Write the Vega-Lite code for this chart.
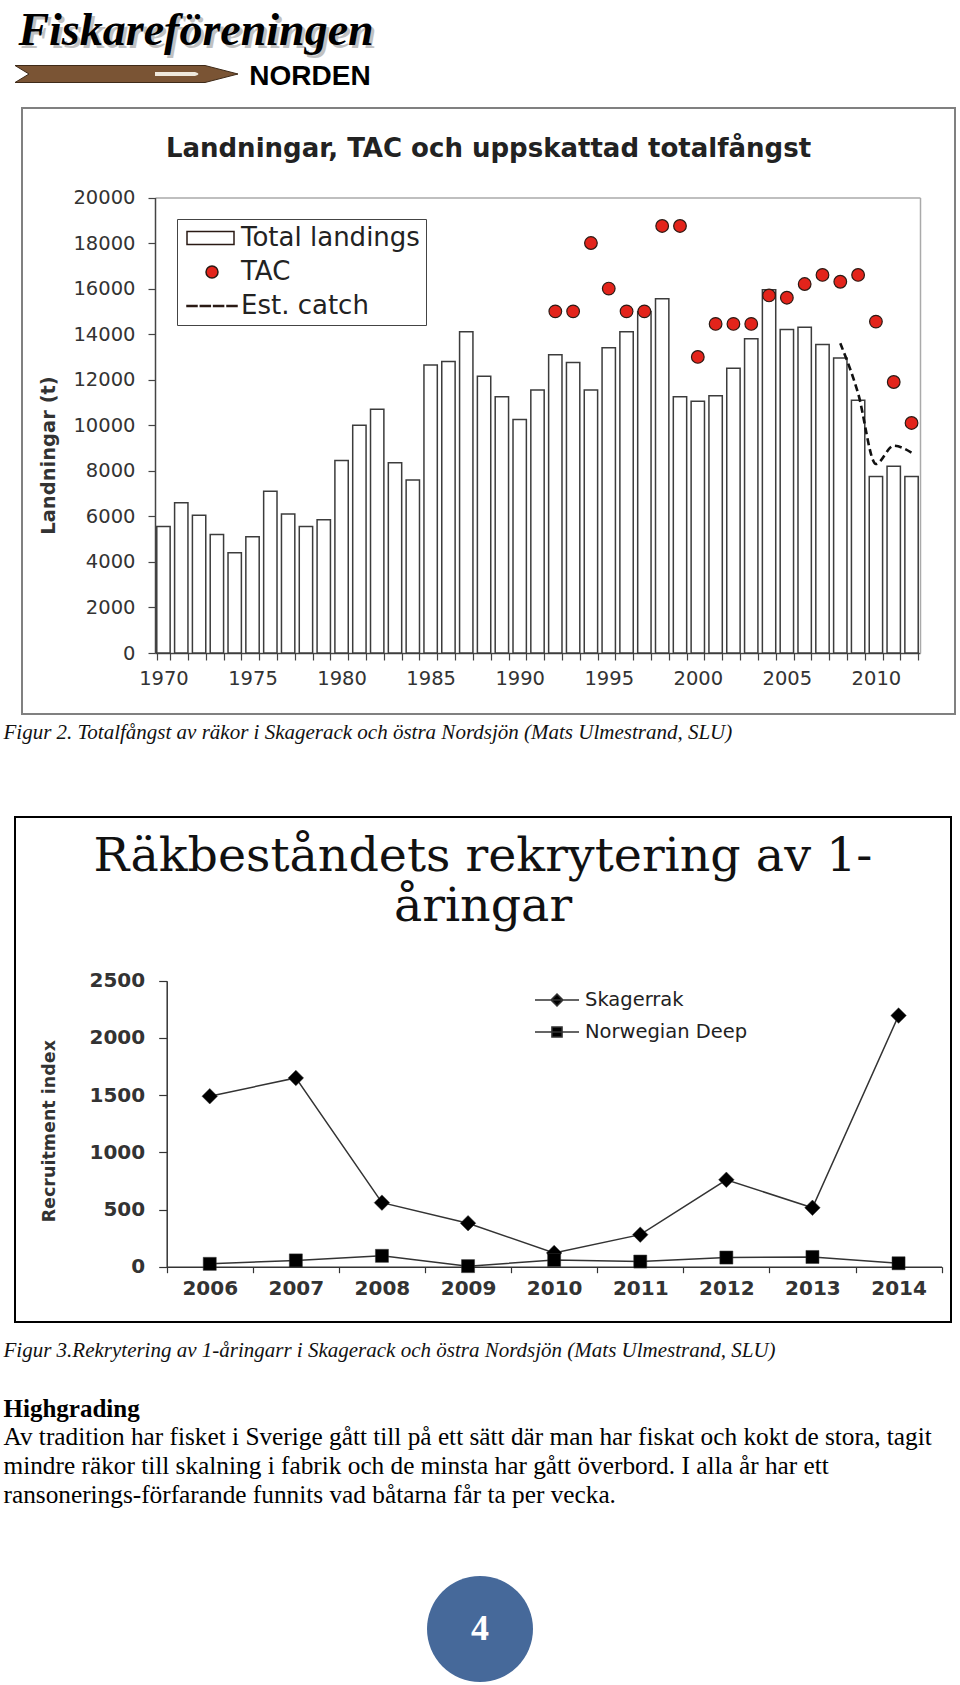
{
  "$schema": "https://vega.github.io/schema/vega-lite/v6.json",
  "background": "white",
  "padding": 0,
  "spacing": 0,
  "config": {"view": {"stroke": null}, "axis": {"grid": false}},
  "resolve": {"scale": {"color": "independent", "shape": "independent", "fill": "independent"}, "legend": {"color": "independent", "shape": "independent", "fill": "independent"}},
  "vconcat": [
    {
      "width": 370,
      "height": 107,
      "data": {"values": [{"name": "Fiskareföreningen", "sub": "NORDEN"}]},
      "layer": [
        {"mark": {"type": "point", "shape": "M-1.7,0.12L0.2,0.12L0.53,0.205L0.2,0.29L-1.7,0.29L-1.56,0.205Z", "size": 40000, "filled": true, "color": "#7a5434", "stroke": "#3e2a18", "strokeWidth": 1, "opacity": 1}, "encoding": {}},
        {"mark": {"type": "point", "shape": "M-0.3,0.185L0.1,0.185Q0.17,0.205,0.1,0.225L-0.3,0.225Z", "size": 40000, "filled": true, "color": "#efe8dc", "opacity": 1}, "encoding": {}},
        {"mark": {"type": "text", "font": "Liberation Serif", "fontStyle": "italic", "fontWeight": "bold", "fontSize": 46, "align": "center", "baseline": "alphabetic", "dx": 14, "dy": -6, "color": "#999999", "opacity": 0.6}, "encoding": {"text": {"field": "name"}}},
        {"mark": {"type": "text", "font": "Liberation Serif", "fontStyle": "italic", "fontWeight": "bold", "fontSize": 46, "align": "center", "baseline": "alphabetic", "dx": 11, "dy": -9, "color": "#000000"}, "encoding": {"text": {"field": "name"}}},
        {"mark": {"type": "text", "font": "Liberation Sans", "fontWeight": "bold", "fontSize": 28, "align": "center", "baseline": "alphabetic", "dx": 125, "dy": 31, "color": "#000000"}, "encoding": {"text": {"field": "sub"}}}
      ]
    },
    {
      "resolve": {"scale": {"color": "independent", "shape": "independent"}, "legend": {"color": "independent", "shape": "independent"}},
      "hconcat": [
        {"width": 21, "height": 606, "data": {"values": [{}]}, "mark": {"type": "text"}, "encoding": {"text": {"value": ""}}},
        {
          "width": 933,
          "height": 606,
          "view": {"stroke": "#808080", "strokeWidth": 2},
          "title": {"text": "Landningar, TAC och uppskattad totalfångst", "font": "DejaVu Sans", "fontSize": 26, "fontWeight": "bold", "color": "#222222", "anchor": "middle", "offset": -75, "baseline": "alphabetic"},
          "data": {"values": [
            {"year": 1970, "landings": 5550, "tac": null, "est": null},
            {"year": 1971, "landings": 6600, "tac": null, "est": null},
            {"year": 1972, "landings": 6050, "tac": null, "est": null},
            {"year": 1973, "landings": 5200, "tac": null, "est": null},
            {"year": 1974, "landings": 4400, "tac": null, "est": null},
            {"year": 1975, "landings": 5100, "tac": null, "est": null},
            {"year": 1976, "landings": 7100, "tac": null, "est": null},
            {"year": 1977, "landings": 6100, "tac": null, "est": null},
            {"year": 1978, "landings": 5550, "tac": null, "est": null},
            {"year": 1979, "landings": 5850, "tac": null, "est": null},
            {"year": 1980, "landings": 8450, "tac": null, "est": null},
            {"year": 1981, "landings": 10000, "tac": null, "est": null},
            {"year": 1982, "landings": 10700, "tac": null, "est": null},
            {"year": 1983, "landings": 8350, "tac": null, "est": null},
            {"year": 1984, "landings": 7600, "tac": null, "est": null},
            {"year": 1985, "landings": 12650, "tac": null, "est": null},
            {"year": 1986, "landings": 12800, "tac": null, "est": null},
            {"year": 1987, "landings": 14100, "tac": null, "est": null},
            {"year": 1988, "landings": 12150, "tac": null, "est": null},
            {"year": 1989, "landings": 11250, "tac": null, "est": null},
            {"year": 1990, "landings": 10250, "tac": null, "est": null},
            {"year": 1991, "landings": 11550, "tac": null, "est": null},
            {"year": 1992, "landings": 13100, "tac": 15000, "est": null},
            {"year": 1993, "landings": 12750, "tac": 15000, "est": null},
            {"year": 1994, "landings": 11550, "tac": 18000, "est": null},
            {"year": 1995, "landings": 13400, "tac": 16000, "est": null},
            {"year": 1996, "landings": 14100, "tac": 15000, "est": null},
            {"year": 1997, "landings": 15000, "tac": 15000, "est": null},
            {"year": 1998, "landings": 15550, "tac": 18750, "est": null},
            {"year": 1999, "landings": 11250, "tac": 18750, "est": null},
            {"year": 2000, "landings": 11050, "tac": 13000, "est": null},
            {"year": 2001, "landings": 11300, "tac": 14450, "est": null},
            {"year": 2002, "landings": 12500, "tac": 14450, "est": null},
            {"year": 2003, "landings": 13800, "tac": 14450, "est": null},
            {"year": 2004, "landings": 15950, "tac": 15700, "est": null},
            {"year": 2005, "landings": 14200, "tac": 15600, "est": null},
            {"year": 2006, "landings": 14300, "tac": 16200, "est": null},
            {"year": 2007, "landings": 13550, "tac": 16600, "est": null},
            {"year": 2008, "landings": 12950, "tac": 16300, "est": 13600},
            {"year": 2009, "landings": 11100, "tac": 16600, "est": 11400},
            {"year": 2010, "landings": 7750, "tac": 14550, "est": 8300},
            {"year": 2011, "landings": 8200, "tac": 11900, "est": 9100},
            {"year": 2012, "landings": 7750, "tac": 10100, "est": 8800}
          ]},
          "layer": [
            {
              "mark": {"type": "bar", "stroke": "#3c3c3c", "strokeWidth": 1.5, "opacity": 1},
              "encoding": {
                "x": {"field": "year", "type": "ordinal",
                  "scale": {"type": "band", "range": [133, 898], "paddingInner": 0.25, "paddingOuter": 0.1},
                  "axis": {"orient": "bottom", "offset": -61, "title": null, "domainColor": "#444444", "domainWidth": 1.5, "tickColor": "#444444", "tickWidth": 1.2, "tickSize": 7, "tickBand": "extent", "labelAngle": 0, "labelFont": "DejaVu Sans", "labelFontSize": 19.5, "labelColor": "#333333", "labelPadding": 9, "labelExpr": "datum.value % 5 === 0 ? datum.label : ''", "labelOverlap": false, "grid": false}},
                "y": {"field": "landings", "type": "quantitative",
                  "scale": {"domain": [0, 20000], "range": [545, 89.5], "nice": false, "zero": true},
                  "axis": {"orient": "left", "offset": -133, "values": [0, 2000, 4000, 6000, 8000, 10000, 12000, 14000, 16000, 18000, 20000], "format": "d", "title": "Landningar (t)", "titleFont": "DejaVu Sans", "titleFontSize": 19.5, "titleFontWeight": "bold", "titleColor": "#333333", "titleX": -107, "titleY": 347, "titleAngle": -90, "titleAlign": "center", "titleBaseline": "middle", "domainColor": "#444444", "domainWidth": 1.5, "tickColor": "#444444", "tickWidth": 1.2, "tickSize": 7, "labelFont": "DejaVu Sans", "labelFontSize": 19.5, "labelColor": "#333333", "labelPadding": 13, "labelFlush": false, "grid": false}},
                "color": {"datum": "Total landings",
                  "scale": {"domain": ["Total landings", "TAC", "Est. catch"], "range": ["#ffffff", "#e3241b", "#111111"]},
                  "legend": {"orient": "none", "legendX": 155, "legendY": 111, "title": null, "direction": "vertical", "padding": 6, "strokeColor": "#444444", "fillColor": "#ffffff", "labelFont": "DejaVu Sans", "labelFontSize": 26, "labelColor": "#222222", "labelLimit": 400, "symbolSize": 256, "symbolStrokeColor": "#333333", "symbolStrokeWidth": 1.5, "symbolOpacity": 1, "labelOffset": 32, "rowPadding": 8}}
              }
            },
            {
              "mark": {"type": "point", "shape": "circle", "filled": true, "size": 160, "stroke": "#2a1a14", "strokeWidth": 1.2, "opacity": 1},
              "encoding": {
                "x": {"field": "year", "type": "ordinal", "axis": {"orient": "top", "offset": -89.5, "title": null, "labels": false, "ticks": false, "domainColor": "#aaaaaa", "domainWidth": 1.5, "grid": false}},
                "y": {"field": "tac", "type": "quantitative", "axis": {"orient": "right", "offset": -35, "title": null, "labels": false, "ticks": false, "domainColor": "#aaaaaa", "domainWidth": 1.5, "grid": false}},
                "color": {"datum": "TAC"}
              }
            },
            {
              "mark": {"type": "line", "color": "#111111", "strokeDash": [7, 4], "strokeWidth": 2.6, "interpolate": "monotone", "opacity": 1},
              "encoding": {
                "x": {"field": "year", "type": "ordinal", "axis": null},
                "y": {"field": "est", "type": "quantitative", "axis": null}
              }
            },
            {
              "transform": [{"filter": "false"}],
              "mark": {"type": "point", "filled": true, "opacity": 1},
              "encoding": {
                "shape": {"datum": "TAC",
                  "scale": {"domain": ["Total landings", "TAC", "Est. catch"], "range": [
                    "M-1.125,-0.81H4.75V0.81H-1.125Z",
                    "M1.25,0A0.75,0.75,0,1,1,2.75,0A0.75,0.75,0,1,1,1.25,0Z",
                    "M-1.125,-0.075H0.125V0.075H-1.125ZM0.54,-0.075H1.79V0.075H0.54ZM2.2,-0.075H3.45V0.075H2.2ZM3.875,-0.075H5.125V0.075H3.875Z"
                  ]}}
              }
            }
          ],
          "resolve": {"axis": {"x": "independent", "y": "independent"}}
        }
      ],
      "spacing": 0
    },
    {
      "width": 7,
      "height": 101,
      "data": {"values": [{"caption": "Figur 2. Totalfångst av räkor i Skagerack och östra Nordsjön (Mats Ulmestrand, SLU)"}]},
      "mark": {"type": "text", "align": "left", "baseline": "alphabetic", "dy": -26.5, "font": "Liberation Serif", "fontStyle": "italic", "fontSize": 21, "color": "#111111"},
      "encoding": {"text": {"field": "caption"}}
    },
    {
      "resolve": {"scale": {"color": "independent", "fill": "independent"}, "legend": {"color": "independent", "fill": "independent"}},
      "hconcat": [
        {"width": 14, "height": 505, "data": {"values": [{}]}, "mark": {"type": "text"}, "encoding": {"text": {"value": ""}}},
        {
          "width": 936,
          "height": 505,
          "view": {"stroke": "#000000", "strokeWidth": 2},
          "title": {"text": ["Räkbeståndets rekrytering av 1-", "åringar"], "font": "DejaVu Serif", "fontSize": 47.5, "fontWeight": "normal", "color": "#111111", "lineHeight": 50, "anchor": "middle", "offset": -151, "baseline": "alphabetic"},
          "data": {"values": [
            {"year": 2006, "series": "Skagerrak", "value": 1490},
            {"year": 2007, "series": "Skagerrak", "value": 1650},
            {"year": 2008, "series": "Skagerrak", "value": 560},
            {"year": 2009, "series": "Skagerrak", "value": 380},
            {"year": 2010, "series": "Skagerrak", "value": 120},
            {"year": 2011, "series": "Skagerrak", "value": 280},
            {"year": 2012, "series": "Skagerrak", "value": 760},
            {"year": 2013, "series": "Skagerrak", "value": 515},
            {"year": 2014, "series": "Skagerrak", "value": 2195},
            {"year": 2006, "series": "Norwegian Deep", "value": 25},
            {"year": 2007, "series": "Norwegian Deep", "value": 55},
            {"year": 2008, "series": "Norwegian Deep", "value": 95},
            {"year": 2009, "series": "Norwegian Deep", "value": 5},
            {"year": 2010, "series": "Norwegian Deep", "value": 58},
            {"year": 2011, "series": "Norwegian Deep", "value": 45},
            {"year": 2012, "series": "Norwegian Deep", "value": 80},
            {"year": 2013, "series": "Norwegian Deep", "value": 85},
            {"year": 2014, "series": "Norwegian Deep", "value": 30}
          ]},
          "layer": [
            {
              "mark": {"type": "line", "color": "#333333", "strokeWidth": 1.5, "opacity": 1},
              "encoding": {
                "x": {"field": "year", "type": "ordinal",
                  "scale": {"type": "band", "range": [151.7, 926.6], "paddingInner": 0, "paddingOuter": 0},
                  "axis": {"orient": "bottom", "offset": -55.3, "title": null, "tickBand": "extent", "tickSize": 6, "tickColor": "#333333", "tickWidth": 1.2, "domainColor": "#333333", "domainWidth": 1.5, "labelAngle": 0, "labelFont": "DejaVu Sans", "labelFontWeight": "bold", "labelFontSize": 20, "labelColor": "#333333", "labelPadding": 6, "grid": false}},
                "y": {"field": "value", "type": "quantitative",
                  "scale": {"domain": [0, 2500], "range": [449.7, 163.7], "nice": false},
                  "axis": {"orient": "left", "offset": -151.7, "values": [0, 500, 1000, 1500, 2000, 2500], "format": "d", "title": "Recruitment index", "titleFont": "DejaVu Sans", "titleFontWeight": "bold", "titleFontSize": 17.5, "titleColor": "#333333", "titleX": -117.7, "titleY": 313.7, "titleAngle": -90, "titleAlign": "center", "titleBaseline": "middle", "tickSize": 8, "tickColor": "#333333", "tickWidth": 1.2, "domainColor": "#333333", "domainWidth": 1.5, "labelFont": "DejaVu Sans", "labelFontWeight": "bold", "labelFontSize": 20, "labelColor": "#333333", "labelPadding": 14, "labelFlush": false, "grid": false}},
                "detail": {"field": "series"}
              }
            },
            {
              "transform": [{"filter": "datum.series === 'Skagerrak'"}],
              "mark": {"type": "point", "shape": "diamond", "filled": true, "size": 240, "stroke": "#333333", "strokeWidth": 0.5, "opacity": 1},
              "encoding": {
                "x": {"field": "year", "type": "ordinal", "axis": null},
                "y": {"field": "value", "type": "quantitative", "axis": null},
                "color": {"datum": "Skagerrak",
                  "scale": {"domain": ["Skagerrak"], "range": ["#000000"]},
                  "legend": {"orient": "none", "legendX": 519, "legendY": 160, "title": null, "padding": 0, "symbolType": "M-1,0H1M0,-0.27L0.27,0L0,0.27L-0.27,0Z", "symbolSize": 1936, "symbolStrokeColor": "#333333", "symbolStrokeWidth": 1.5, "symbolOpacity": 1, "labelOffset": 5, "labelFont": "DejaVu Sans", "labelFontSize": 19.5, "labelColor": "#222222", "labelLimit": 400}}
              }
            },
            {
              "transform": [{"filter": "datum.series === 'Norwegian Deep'"}],
              "mark": {"type": "point", "shape": "square", "filled": true, "size": 170, "stroke": "#333333", "strokeWidth": 0.5, "opacity": 1},
              "encoding": {
                "x": {"field": "year", "type": "ordinal", "axis": null},
                "y": {"field": "value", "type": "quantitative", "axis": null},
                "fill": {"datum": "Norwegian Deep",
                  "scale": {"domain": ["Norwegian Deep"], "range": ["#000000"]},
                  "legend": {"orient": "none", "legendX": 519, "legendY": 192, "title": null, "padding": 0, "symbolType": "M-1,0H1M-0.23,-0.23H0.23V0.23H-0.23Z", "symbolSize": 1936, "symbolStrokeColor": "#333333", "symbolStrokeWidth": 1.5, "symbolOpacity": 1, "labelOffset": 5, "labelFont": "DejaVu Sans", "labelFontSize": 19.5, "labelColor": "#222222", "labelLimit": 400}}
              }
            }
          ],
          "resolve": {"axis": {"x": "independent", "y": "independent"}}
        }
      ],
      "spacing": 0
    },
    {
      "width": 7,
      "height": 253,
      "data": {"values": [{
        "caption": "Figur 3.Rekrytering av 1-åringarr i Skagerack och östra Nordsjön (Mats Ulmestrand, SLU)",
        "heading": "Highgrading",
        "para": "Av tradition har fisket i Sverige gått till på ett sätt där man har fiskat och kokt de stora, tagit\nmindre räkor till skalning i fabrik och de minsta har gått överbord. I alla år har ett\nransonerings-förfarande funnits vad båtarna får ta per vecka."
      }]},
      "layer": [
        {"mark": {"type": "text", "align": "left", "baseline": "alphabetic", "dy": -92.8, "font": "Liberation Serif", "fontStyle": "italic", "fontSize": 21, "color": "#111111"}, "encoding": {"text": {"field": "caption"}}},
        {"mark": {"type": "text", "align": "left", "baseline": "alphabetic", "dy": -32.8, "font": "Liberation Serif", "fontWeight": "bold", "fontSize": 25, "color": "#000000"}, "encoding": {"text": {"field": "heading"}}},
        {"mark": {"type": "text", "align": "left", "baseline": "alphabetic", "dy": -4.1, "font": "Liberation Serif", "fontSize": 25.3, "lineBreak": "\n", "lineHeight": 28.7, "color": "#000000"}, "encoding": {"text": {"field": "para"}}}
      ]
    },
    {
      "width": 960,
      "height": 106,
      "data": {"values": [{"page": "4"}]},
      "layer": [
        {"mark": {"type": "point", "shape": "circle", "filled": true, "size": 11236, "color": "#46699a", "opacity": 1, "strokeWidth": 0}, "encoding": {}},
        {"mark": {"type": "text", "font": "Liberation Serif", "fontWeight": "bold", "fontSize": 36, "color": "#ffffff", "align": "center", "baseline": "middle"}, "encoding": {"text": {"field": "page"}}}
      ]
    }
  ]
}
